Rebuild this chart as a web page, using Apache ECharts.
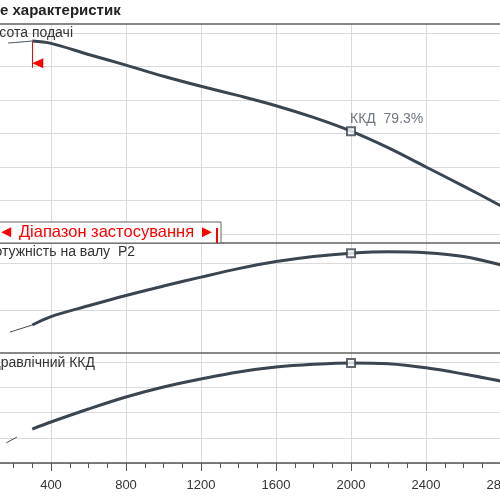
<!DOCTYPE html>
<html><head><meta charset="utf-8">
<script src="https://cdn.jsdelivr.net/npm/echarts@6/dist/echarts.min.js"></script>
<style>html,body{margin:0;padding:0;background:#fff}#c{width:500px;height:500px}</style>
</head><body><div id="c"></div>
<script>
// ---- data ----
const qMin = 0, qMax = 2800, qStep = 400;          // flow axis
const titleText = 'е характеристик';
const headName = 'Висота подачі';
const powerName = 'Потужність на валу  P2';
const effName = 'Гідравлічний ККД';
const rangeText = '◄ Діапазон застосування ►';

const flowQ   = [300, 400, 600, 800, 1000, 1200, 1400, 1600, 1800, 2000, 2200, 2400, 2600, 2800];
const headH   = [5.76, 5.69, 5.36, 5.04, 4.71, 4.41, 4.13, 3.83, 3.48, 3.07, 2.57, 2.00, 1.43, 0.84];
const powerP  = [-0.32, -0.14, 0.09, 0.31, 0.51, 0.70, 0.88, 1.03, 1.14, 1.21, 1.24, 1.22, 1.14, 0.96];
const effE    = [26.9, 32.5, 42.8, 52.3, 60.2, 66.5, 72.1, 76.0, 78.2, 79.3, 78.6, 75.4, 70.5, 64.9];

const headLowQ = [171, 300],  headLowH = [5.70, 5.76];
const powerLowQ = [181, 300], powerLowP = [-0.47, -0.32];
const effLowQ = [160, 219],   effLowE = [15.8, 20.6];

const bepQ = 2000, bepH = 3.07, bepP = 1.21, bepE = 79.3;
const rangeStartQ = 300, rangeMarkTop = 5.74, rangeMarkBottom = 4.96, rangeArrowH = 5.10;

// ---- helpers ----
const pairs = (xs, ys) => xs.map((x, i) => [x, ys[i]]);
const LINE = '#3a4550';
const FONT = '"Liberation Sans", Arial, sans-serif';

const gridBox = (top, height) => ({left: -24, right: -1, top, height, outerBoundsMode: 'none', containLabel: false});
const xHidden = (gi) => ({gridIndex: gi, type: 'value', min: qMin, max: qMax, interval: qStep, show: false});
const yGrid = (gi, min, max, interval) => ({
  gridIndex: gi, type: 'value', min, max, interval,
  axisLine: {show: false}, axisTick: {show: false}, axisLabel: {show: false},
  splitLine: {show: true, lineStyle: {color: '#dadada', width: 1}}
});
const lineSeries = (xi, data, width) => ({
  type: 'line', xAxisIndex: xi, yAxisIndex: xi, data, smooth: 0.35,
  showSymbol: false, clip: false, lineStyle: {color: LINE, width}, z: 3, silent: true
});
const bepSeries = (xi, data, extra) => Object.assign({
  type: 'scatter', xAxisIndex: xi, yAxisIndex: xi, data, symbol: 'rect', symbolSize: 8,
  itemStyle: {color: '#fff', borderColor: LINE, borderWidth: 2}, z: 6, clip: false, silent: true
}, extra || {});

const chart = echarts.init(document.getElementById('c'));
chart.setOption({
  animation: false,
  grid: [
    gridBox(24, 439),   // background (vertical grid)
    gridBox(33, 201),   // head
    gridBox(263, 47),   // power
    gridBox(362, 101)   // efficiency
  ],
  xAxis: [
    {gridIndex: 0, type: 'value', min: qMin, max: qMax, interval: qStep,
     axisLine: {show: false}, axisTick: {show: false}, axisLabel: {show: false},
     splitLine: {show: true, lineStyle: {color: '#dadada', width: 1}}},
    xHidden(1), xHidden(2),
    {gridIndex: 3, type: 'value', min: qMin, max: qMax, interval: qStep,
     axisLine: {show: true, lineStyle: {color: '#555', width: 1.5}},
     axisTick: {show: true, length: 8, lineStyle: {color: '#555'}},
     minorTick: {show: true, splitNumber: 4, length: 5, lineStyle: {color: '#555'}},
     axisLabel: {show: true, margin: 16, color: '#333', fontSize: 13, fontFamily: FONT,
       formatter: (v) => String(v)},
     splitLine: {show: false}}
  ],
  yAxis: [
    {gridIndex: 0, type: 'value', min: 0, max: 1, show: false},
    yGrid(1, 0, 6, 1),
    yGrid(2, 0, 1, 1),
    yGrid(3, 0, 80, 20)
  ],
  series: [
    lineSeries(1, pairs(headLowQ, headLowH), 1),
    Object.assign(lineSeries(1, pairs(flowQ, headH), 3), {
      markLine: {silent: true, symbol: 'none', animation: false,
        lineStyle: {color: '#ff0000', width: 1, type: 'solid'}, label: {show: false},
        data: [[{coord: [rangeStartQ, rangeMarkTop]}, {coord: [rangeStartQ, rangeMarkBottom]}]]},
      markPoint: {silent: true, symbol: 'triangle', symbolSize: [10, 11], symbolRotate: 90,
        symbolOffset: [5.5, 0], itemStyle: {color: '#ff0000'}, label: {show: false},
        data: [{coord: [rangeStartQ, rangeArrowH]}]}
    }),
    bepSeries(1, [[bepQ, bepH]], {label: {show: true, position: [4, -14],
      formatter: 'ККД  ' + bepE.toFixed(1) + '%', color: '#4a5561', fontSize: 14, fontFamily: FONT}}),
    lineSeries(2, pairs(powerLowQ, powerLowP), 1),
    lineSeries(2, pairs(flowQ, powerP), 3),
    bepSeries(2, [[bepQ, bepP]]),
    lineSeries(3, pairs(effLowQ, effLowE), 1),
    lineSeries(3, pairs(flowQ, effE), 3),
    bepSeries(3, [[bepQ, bepE]])
  ],
  graphic: [
    {type: 'text', left: 0, top: 3, z: 20, style: {text: titleText, font: 'bold 15px ' + FONT, fill: '#222'}},
    {type: 'line', z: 20, shape: {x1: 0, y1: 24, x2: 500, y2: 24}, style: {stroke: '#606060', lineWidth: 1.5}},
    {type: 'line', z: 20, shape: {x1: 0, y1: 243, x2: 500, y2: 243}, style: {stroke: '#606060', lineWidth: 1.5}},
    {type: 'line', z: 20, shape: {x1: 0, y1: 353, x2: 500, y2: 353}, style: {stroke: '#606060', lineWidth: 1.5}},
    {type: 'text', z: 20, x: 73, y: 33, style: {text: headName, font: '14px ' + FONT, fill: '#333', textAlign: 'right', textVerticalAlign: 'middle'}},
    {type: 'text', z: 20, x: 135, y: 252, style: {text: powerName, font: '14px ' + FONT, fill: '#333', textAlign: 'right', textVerticalAlign: 'middle'}},
    {type: 'text', z: 20, x: 95, y: 363, style: {text: effName, font: '14px ' + FONT, fill: '#333', textAlign: 'right', textVerticalAlign: 'middle'}},
    {type: 'rect', z: 21, shape: {x: -5, y: 222, width: 226, height: 21}, style: {fill: '#fff', stroke: '#606060', lineWidth: 1}},
    {type: 'text', z: 22, x: -2, y: 232.5, style: {text: rangeText, font: '16.5px ' + FONT, fill: '#ff0000', textVerticalAlign: 'middle'}},
    {type: 'line', z: 22, shape: {x1: 217, y1: 228, x2: 217, y2: 243}, style: {stroke: '#ff0000', lineWidth: 2}}
  ]
});
</script></body></html>
